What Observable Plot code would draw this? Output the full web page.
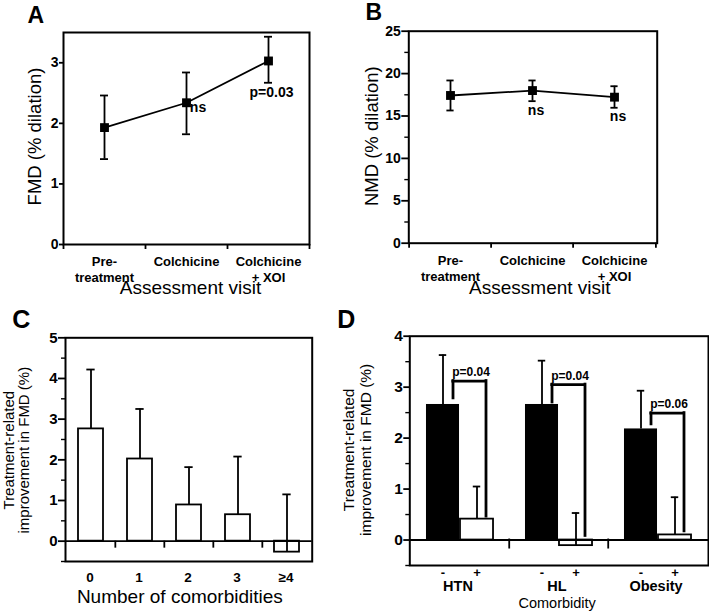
<!DOCTYPE html>
<html>
<head>
<meta charset="utf-8">
<script src="https://cdn.jsdelivr.net/npm/d3@7"></script>
<script src="https://cdn.jsdelivr.net/npm/@observablehq/plot@0.6"></script>
<style>
  html, body { margin: 0; padding: 0; background: white; }
  #root { position: relative; width: 709px; height: 614px; background: white; overflow: hidden; }
  #root > div { position: absolute; }
</style>
</head>
<body>
<div id="root"></div>
<script>
// ---------- Panel A: FMD by assessment visit ----------
const visits = ["Pre-treatment", "Colchicine", "Colchicine + XOI"];
const visitTickLabels = ["Pre-\ntreatment", "Colchicine", "Colchicine\n+ XOI"];
const fmdMean = [1.93, 2.34, 3.03];
const fmdLow = [1.41, 1.82, 2.67];
const fmdHigh = [2.46, 2.84, 3.43];
const fmdNotes = ["", "ns", "p=0.03"];
const fmdTicks = [0, 1, 2, 3];

// ---------- Panel B: NMD by assessment visit ----------
const nmdMean = [17.42, 18.0, 17.22];
const nmdLow = [15.65, 16.75, 15.97];
const nmdHigh = [19.19, 19.19, 18.51];
const nmdNotes = ["", "ns", "ns"];
const nmdTicks = [0, 5, 10, 15, 20, 25];
const nmdMinorTicks = [2.5, 7.5, 12.5, 17.5, 22.5];

// ---------- Panel C: improvement by number of comorbidities ----------
const comorbCounts = ["0", "1", "2", "3", "≥4"];
const countMean = [2.76, 2.02, 0.89, 0.65, -0.27];
const countUpper = [4.22, 3.25, 1.82, 2.08, 1.15];
const cTicks = [0, 1, 2, 3, 4, 5];
const cMinorTicks = [-0.5, 0.5, 1.5, 2.5, 3.5, 4.5];

// ---------- Panel D: improvement by comorbidity ----------
const comorbidities = ["HTN", "HL", "Obesity"];
const absentMean = [2.66, 2.66, 2.18];
const absentUpper = [3.63, 3.52, 2.93];
const presentMean = [0.41, -0.11, 0.10];
const presentUpper = [1.05, 0.53, 0.84];
const pValues = ["p=0.04", "p=0.04", "p=0.06"];
const bracketTop = [3.12, 3.05, 2.49];
const bracketLeftEnd = [2.78, 2.70, 2.27];
const bracketRightEnd = [0.46, 0.08, 0.17];
const dTicks = [0, 1, 2, 3, 4];
const dMinorTicks = [-0.5, 0.5, 1.5, 2.5, 3.5];

// ---------- helpers ----------
const FONT = "'Liberation Sans', Arial, Helvetica, sans-serif";
const root = document.getElementById("root");
function place(svg, left, top) {
  const d = document.createElement("div");
  d.style.left = left + "px";
  d.style.top = top + "px";
  d.appendChild(svg);
  root.appendChild(d);
}
const baseStyle = {fontFamily: FONT, background: "transparent", overflow: "visible", color: "black"};
const SW = 1.8;
function capInsets(step, offset, w) {
  return {insetLeft: step / 2 + offset - w / 2, insetRight: step / 2 - offset - w / 2};
}
const MID = {textAnchor: "middle", lineAnchor: "middle"};
// y axis: tick marks through Plot's axis, labels as bold text
function yAxis(ticks, minor, tickSize, fontSize) {
  const marks = [
    Plot.axisY({ticks, tickSize, strokeWidth: SW, label: null, tickFormat: () => ""}),
    Plot.text(ticks, {y: d => d, text: d => String(d), frameAnchor: "left", textAnchor: "end", lineAnchor: "middle",
      dx: -(tickSize + 1), fontSize, fontWeight: "bold"})
  ];
  if (minor) marks.push(Plot.axisY({ticks: minor, tickSize: 4, strokeWidth: 1.4, label: null, tickFormat: () => ""}));
  return marks;
}

// ================= Panel A =================
{
  const W = 354, H = 307, ML = 63, MR = 45, MT = 32, MB = 63;
  const step = (W - ML - MR) / visits.length;
  const data = visits.map((v, i) => ({visit: v, label: visitTickLabels[i], mean: fmdMean[i], lo: fmdLow[i], hi: fmdHigh[i], note: fmdNotes[i]}));
  const svg = Plot.plot({
    width: W, height: H, marginLeft: ML, marginRight: MR, marginTop: MT, marginBottom: MB,
    style: baseStyle,
    x: {type: "band", domain: visits, padding: 0, axis: null},
    y: {domain: [0, 3.5]},
    marks: [
      Plot.frame({stroke: "black", strokeWidth: 2}),
      ...yAxis(fmdTicks, null, 4, 14),
      Plot.text(data, {x: "visit", text: "label", frameAnchor: "bottom", textAnchor: "middle", lineAnchor: "top",
        dy: 9.5, lineHeight: 1.26, fontSize: 13, fontWeight: "bold"}),
      Plot.ruleX(visits, {x: d => d, y1: 0, y2: 0, dx: -step / 2, insetBottom: -5, strokeWidth: SW}),
      Plot.ruleX(visits.slice(-1), {x: d => d, y1: 0, y2: 0, dx: step / 2, insetBottom: -5, strokeWidth: SW}),
      Plot.ruleX(data, {x: "visit", y1: "lo", y2: "hi", strokeWidth: SW}),
      Plot.tickY(data, {x: "visit", y: "lo", ...capInsets(step, 0, 8), strokeWidth: SW}),
      Plot.tickY(data, {x: "visit", y: "hi", ...capInsets(step, 0, 8), strokeWidth: SW}),
      Plot.line(data, {x: "visit", y: "mean", stroke: "black", strokeWidth: SW}),
      Plot.dot(data, {x: "visit", y: "mean", symbol: "square", r: 5, fill: "black", stroke: "none"}),
      Plot.text(data.filter(d => d.note === "ns"), {x: "visit", y: "mean", text: "note", ...MID, dx: 11.5, dy: 5, fontSize: 14, fontWeight: "bold"}),
      Plot.text(data.filter(d => d.note.startsWith("p")), {x: "visit", y: "lo", text: "note", ...MID, dx: 3, dy: 9.5, fontSize: 14, fontWeight: "bold"}),
      Plot.text(["Assessment visit"], {frameAnchor: "bottom", text: d => d, ...MID, dx: 4, dy: 43.5, fontSize: 19}),
      Plot.text(["FMD (% dilation)"], {frameAnchor: "left", text: d => d, ...MID, rotate: -90, dx: -28, dy: -2, fontSize: 18.5}),
      Plot.text(["A"], {frameAnchor: "top-left", text: d => d, textAnchor: "start", lineAnchor: "middle", dx: -36, dy: -17.3, fontSize: 23, fontWeight: "bold"})
    ]
  });
  place(svg, 0, 0);
}

// ================= Panel B =================
{
  const W = 355, H = 307, ML = 54.3, MR = 52.3, MT = 30.7, MB = 64.3;
  const step = (W - ML - MR) / visits.length;
  const data = visits.map((v, i) => ({visit: v, label: visitTickLabels[i], mean: nmdMean[i], lo: nmdLow[i], hi: nmdHigh[i], note: nmdNotes[i]}));
  const svg = Plot.plot({
    width: W, height: H, marginLeft: ML, marginRight: MR, marginTop: MT, marginBottom: MB,
    style: baseStyle,
    x: {type: "band", domain: visits, padding: 0, axis: null},
    y: {domain: [0, 25]},
    marks: [
      Plot.frame({stroke: "black", strokeWidth: 2}),
      ...yAxis(nmdTicks, nmdMinorTicks, 7, 14),
      Plot.text(data, {x: "visit", text: "label", frameAnchor: "bottom", textAnchor: "middle", lineAnchor: "top",
        dy: 10.5, lineHeight: 1.24, fontSize: 13, fontWeight: "bold"}),
      Plot.ruleX(visits, {x: d => d, y1: 0, y2: 0, dx: -step / 2, insetBottom: -5, strokeWidth: SW}),
      Plot.ruleX(visits.slice(-1), {x: d => d, y1: 0, y2: 0, dx: step / 2, insetBottom: -5, strokeWidth: SW}),
      Plot.ruleX(data, {x: "visit", y1: "lo", y2: "hi", strokeWidth: SW}),
      Plot.tickY(data, {x: "visit", y: "lo", ...capInsets(step, 0, 8), strokeWidth: SW}),
      Plot.tickY(data, {x: "visit", y: "hi", ...capInsets(step, 0, 8), strokeWidth: SW}),
      Plot.line(data, {x: "visit", y: "mean", stroke: "black", strokeWidth: SW}),
      Plot.dot(data, {x: "visit", y: "mean", symbol: "square", r: 5, fill: "black", stroke: "none"}),
      Plot.text(data.filter(d => d.note), {x: "visit", y: "lo", text: "note", ...MID, dx: 3.5, dy: 9, fontSize: 14, fontWeight: "bold"}),
      Plot.text(["Assessment visit"], {frameAnchor: "bottom", text: d => d, ...MID, dx: 6.8, dy: 45, fontSize: 19}),
      Plot.text(["NMD (% dilation)"], {frameAnchor: "left", text: d => d, ...MID, rotate: -90, dx: -36.6, dy: -1, fontSize: 18.5}),
      Plot.text(["B"], {frameAnchor: "top-left", text: d => d, textAnchor: "start", lineAnchor: "middle", dx: -43.3, dy: -19, fontSize: 23, fontWeight: "bold"})
    ]
  });
  place(svg, 354, 0);
}

// ================= Panel C =================
{
  const W = 330, H = 314, ML = 65, MR = 18.3, MT = 37.3, MB = 53;
  const step = (W - ML - MR) / comorbCounts.length;
  const data = comorbCounts.map((c, i) => ({count: c, mean: countMean[i], upper: countUpper[i]}));
  const svg = Plot.plot({
    width: W, height: H, marginLeft: ML, marginRight: MR, marginTop: MT, marginBottom: MB,
    style: baseStyle,
    x: {type: "band", domain: comorbCounts, paddingInner: 0.5, paddingOuter: 0.25, axis: null},
    y: {domain: [-0.5, 5]},
    marks: [
      Plot.barY(data, {x: "count", y: "mean", fill: "white", stroke: "black", strokeWidth: SW}),
      Plot.ruleX(data, {x: "count", y1: "mean", y2: "upper", strokeWidth: SW}),
      Plot.tickY(data, {x: "count", y: "upper", ...capInsets(step / 2, 0, 8), strokeWidth: SW}),
      Plot.ruleY([0], {stroke: "black", strokeWidth: SW}),
      Plot.ruleX(comorbCounts.slice(1), {x: d => d, y1: 0, y2: 0, dx: -step / 2, insetBottom: -7, strokeWidth: SW}),
      Plot.frame({stroke: "black", strokeWidth: 2}),
      ...yAxis(cTicks, cMinorTicks, 7, 15),
      Plot.text(data, {x: "count", text: "count", frameAnchor: "bottom", ...MID, dx: -1, dy: 15.7, fontSize: 13.5, fontWeight: "bold"}),
      Plot.text(["Number of comorbidities"], {frameAnchor: "bottom", text: d => d, ...MID, dx: -9, dy: 35.7, fontSize: 19}),
      Plot.text(["Treatment-related\nimprovement in FMD (%)"], {frameAnchor: "left", text: d => d, ...MID, rotate: -90, dx: -49, dy: 0.5, fontSize: 15, lineHeight: 1.03}),
      Plot.text(["C"], {frameAnchor: "top-left", text: d => d, textAnchor: "start", lineAnchor: "middle", dx: -53.3, dy: -18.1, fontSize: 25, fontWeight: "bold"})
    ]
  });
  place(svg, 0, 300);
}

// ================= Panel D =================
{
  const W = 379, H = 314, ML = 79.3, MR = 1, MT = 35.7, MB = 49;
  const step = (W - ML - MR) / comorbidities.length;
  const barW = 33.6, off = 17;
  const data = comorbidities.map((g, i) => ({
    group: g, absent: absentMean[i], absentHi: absentUpper[i],
    present: presentMean[i], presentHi: presentUpper[i],
    p: pValues[i], top: bracketTop[i], left: bracketLeftEnd[i], right: bracketRightEnd[i]
  }));
  const blackInset = {insetLeft: step / 2 - off - barW / 2, insetRight: step / 2 + off - barW / 2};
  const whiteInset = {insetLeft: step / 2 + off - barW / 2, insetRight: step / 2 - off - barW / 2};
  const svg = Plot.plot({
    width: W, height: H, marginLeft: ML, marginRight: MR, marginTop: MT, marginBottom: MB,
    style: baseStyle,
    x: {type: "band", domain: comorbidities, padding: 0, axis: null},
    y: {domain: [-0.5, 4]},
    marks: [
      Plot.barY(data, {x: "group", y: "absent", fill: "black", ...blackInset}),
      Plot.barY(data, {x: "group", y: "present", fill: "white", stroke: "black", strokeWidth: SW, ...whiteInset}),
      Plot.ruleX(data, {x: "group", y1: "absent", y2: "absentHi", dx: -off, strokeWidth: SW}),
      Plot.tickY(data, {x: "group", y: "absentHi", ...capInsets(step, -off, 8), strokeWidth: SW}),
      Plot.ruleX(data, {x: "group", y1: "present", y2: "presentHi", dx: off, strokeWidth: SW}),
      Plot.tickY(data, {x: "group", y: "presentHi", ...capInsets(step, off, 8), strokeWidth: SW}),
      // significance brackets
      Plot.ruleX(data, {x: "group", y1: "left", y2: "top", dx: -7, strokeWidth: 2.8, strokeLinecap: "square"}),
      Plot.ruleX(data, {x: "group", y1: "right", y2: "top", dx: 26, strokeWidth: 2.8, strokeLinecap: "square"}),
      Plot.tickY(data, {x: "group", y: "top", ...capInsets(step, 9.5, 33), strokeWidth: 2.8, strokeLinecap: "square"}),
      Plot.text(data, {x: "group", y: "top", text: "p", ...MID, dx: 11, dy: -8.5, fontSize: 12, fontWeight: "bold"}),
      Plot.ruleY([0], {stroke: "black", strokeWidth: SW}),
      Plot.ruleX(comorbidities.slice(1), {x: d => d, y1: 0, y2: 0, dx: -step / 2, insetTop: -1, insetBottom: -9, strokeWidth: SW}),
      Plot.frame({stroke: "black", strokeWidth: 2}),
      ...yAxis(dTicks, dMinorTicks, 6, 15.5),
      Plot.text(data, {x: "group", text: () => "-", frameAnchor: "bottom", ...MID, dx: -off, dy: 6.9, fontSize: 13, fontWeight: "bold"}),
      Plot.text(data, {x: "group", text: () => "+", frameAnchor: "bottom", ...MID, dx: off, dy: 6.9, fontSize: 13, fontWeight: "bold"}),
      Plot.text(data, {x: "group", text: "group", frameAnchor: "bottom", ...MID, dx: -2, dy: 21, fontSize: 14.5, fontWeight: "bold"}),
      Plot.text(["Comorbidity"], {frameAnchor: "bottom", text: d => d, ...MID, dx: -2, dy: 38, fontSize: 14.5}),
      Plot.text(["Treatment-related\nimprovement in FMD (%)"], {frameAnchor: "left", text: d => d, ...MID, rotate: -90, dx: -52.6, dy: -1, fontSize: 15.5, lineHeight: 1.08}),
      Plot.text(["D"], {frameAnchor: "top-left", text: d => d, textAnchor: "start", lineAnchor: "middle", dx: -72.6, dy: -16.5, fontSize: 25, fontWeight: "bold"})
    ]
  });
  place(svg, 330, 300);
}
</script>
</body>
</html>
